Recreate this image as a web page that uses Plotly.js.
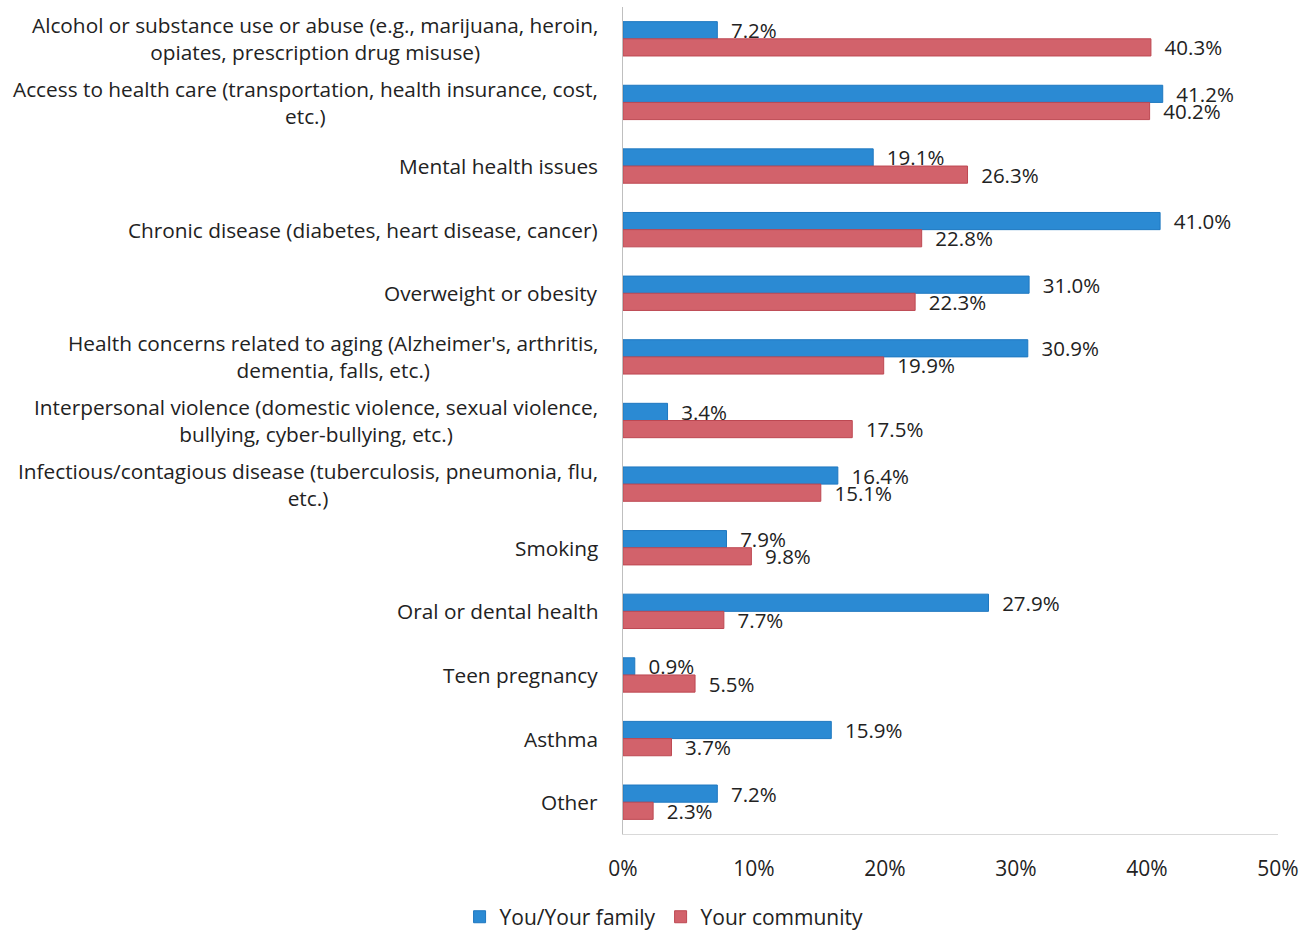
<!DOCTYPE html>
<html>
<head>
<meta charset="utf-8">
<script src="https://cdn.plot.ly/plotly-3.0.1.min.js"></script>
<style>
html,body{margin:0;padding:0;background:#fff;}
#chart{width:1315px;height:932px;}
</style>
</head>
<body>
<div id="chart"></div>
<script>
var categories = [
  "Alcohol",
  "Access",
  "Mental",
  "Chronic",
  "Overweight",
  "Aging",
  "Violence",
  "Infectious",
  "Smoking",
  "Oral",
  "Teen",
  "Asthma",
  "Other"
];
var categoryLabels = [
  "Alcohol or substance use or abuse (e.g., marijuana, heroin,<br>opiates, prescription drug misuse)",
  "Access to health care (transportation, health insurance, cost,<br>etc.)",
  "Mental health issues",
  "Chronic disease (diabetes, heart disease, cancer)",
  "Overweight or obesity",
  "Health concerns related to aging (Alzheimer's, arthritis,<br>dementia, falls, etc.)",
  "Interpersonal violence (domestic violence, sexual violence,<br>bullying, cyber-bullying, etc.)",
  "Infectious/contagious disease (tuberculosis, pneumonia, flu,<br>etc.)",
  "Smoking",
  "Oral or dental health",
  "Teen pregnancy",
  "Asthma",
  "Other"
];
var familyValues = [7.2, 41.2, 19.1, 41.0, 31.0, 30.9, 3.4, 16.4, 7.9, 27.9, 0.9, 15.9, 7.2];
var communityValues = [40.3, 40.2, 26.3, 22.8, 22.3, 19.9, 17.5, 15.1, 9.8, 7.7, 5.5, 3.7, 2.3];
var seriesNames = ["You/Your family", "Your community"];
var xTickVals = [0, 10, 20, 30, 40, 50];
var xTickText = ["0%", "10%", "20%", "30%", "40%", "50%"];

var FONT = "'Open Sans', 'Noto Sans', sans-serif";
var pad = "\u00a0\u00a0";

var traces = [
  {
    type: "bar", orientation: "h", name: seriesNames[0],
    y: categories, x: familyValues,
    marker: {color: "#2b8ad3", line: {color: "#1f78c0", width: 1}},
    text: familyValues.map(function(v){ return pad + v.toFixed(1) + "%"; }),
    textposition: "outside", cliponaxis: false, constraintext: "none",
    textfont: {family: FONT, size: 20.5, color: "#222"},
    hoverinfo: "x+name"
  },
  {
    type: "bar", orientation: "h", name: seriesNames[1],
    y: categories, x: communityValues,
    marker: {color: "#d2626b", line: {color: "#bd4852", width: 1}},
    text: communityValues.map(function(v){ return pad + v.toFixed(1) + "%"; }),
    textposition: "outside", cliponaxis: false, constraintext: "none",
    textfont: {family: FONT, size: 20.5, color: "#222"},
    hoverinfo: "x+name"
  }
];

var annotations = categories.map(function(c, i){
  return {
    xref: "paper", x: -0.035, xanchor: "right",
    yref: "y", y: c, yanchor: "middle",
    text: categoryLabels[i], align: "center", showarrow: false,
    font: {family: FONT, size: 20.8, color: "#222"}
  };
});

var layout = {
  width: 1315, height: 932,
  margin: {l: 623, r: 37, t: 7, b: 98, pad: 0},
  paper_bgcolor: "#fff", plot_bgcolor: "#fff",
  barmode: "group", bargap: 0.46, bargroupgap: 0,
  showlegend: true,
  legend: {
    orientation: "h", xref: "container", yref: "container",
    x: 0.505, xanchor: "center", y: 0.016, yanchor: "middle",
    font: {family: FONT, size: 21, color: "#222"},
    itemwidth: 30, traceorder: "normal"
  },
  xaxis: {
    range: [0, 50], tickvals: xTickVals, ticktext: xTickText,
    showgrid: false, zeroline: false,
    showline: true, linecolor: "#d9d9d9", linewidth: 1,
    ticks: "outside", ticklen: 16, tickcolor: "rgba(0,0,0,0)",
    tickfont: {family: FONT, size: 21, color: "#222"}
  },
  yaxis: {
    categoryorder: "array", categoryarray: categories,
    autorange: "reversed",
    showticklabels: false, showgrid: false, zeroline: false,
    showline: true, linecolor: "#bfbfbf", linewidth: 1, ticks: ""
  },
  annotations: annotations
};

Plotly.newPlot("chart", traces, layout, {displayModeBar: false, staticPlot: true});
</script>
</body>
</html>
